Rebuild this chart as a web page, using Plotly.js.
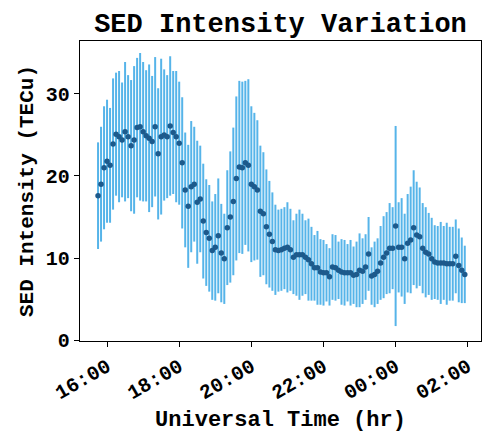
<!DOCTYPE html>
<html>
<head>
<meta charset="utf-8">
<script src="https://cdn.plot.ly/plotly-3.0.1.min.js"></script>
<style>html,body{margin:0;padding:0;background:#fff;}#chart{width:491px;height:433px;}</style>
</head>
<body>
<div id="chart"></div>
<script>
// Sample times (UT), 5-minute cadence
const times = [
"15:45","15:50","15:55","16:00","16:05","16:10","16:15","16:20","16:25","16:30","16:35","16:40",
"16:45","16:50","16:55","17:00","17:05","17:10","17:15","17:20","17:25","17:30","17:35","17:40",
"17:45","17:50","17:55","18:00","18:05","18:10","18:15","18:20","18:25","18:30","18:35","18:40",
"18:45","18:50","18:55","19:00","19:05","19:10","19:15","19:20","19:25","19:30","19:35","19:40",
"19:45","19:50","19:55","20:00","20:05","20:10","20:15","20:20","20:25","20:30","20:35","20:40",
"20:45","20:50","20:55","21:00","21:05","21:10","21:15","21:20","21:25","21:30","21:35","21:40",
"21:45","21:50","21:55","22:00","22:05","22:10","22:15","22:20","22:25","22:30","22:35","22:40",
"22:45","22:50","22:55","23:00","23:05","23:10","23:15","23:20","23:25","23:30","23:35","23:40",
"23:45","23:50","23:55","00:00","00:05","00:10","00:15","00:20","00:25","00:30","00:35","00:40",
"00:45","00:50","00:55","01:00","01:05","01:10","01:15","01:20","01:25","01:30","01:35","01:40",
"01:45","01:50","01:55"
];
// SED intensity (TECu)
const intensity = [
17.6,19.0,21.0,21.8,21.3,23.9,25.1,24.8,24.4,25.4,24.8,23.7,
24.4,25.9,26.0,25.4,24.9,24.6,24.2,26.0,22.7,24.8,25.0,24.8,
26.1,25.3,24.8,24.0,21.6,18.3,16.3,18.7,19.0,16.8,17.2,14.5,
13.1,12.4,10.9,11.3,12.7,10.6,9.9,13.7,15.0,16.9,19.7,21.1,
21.0,21.6,21.3,19.0,18.7,18.3,15.7,15.4,13.8,12.9,12.0,11.0,
10.9,11.0,11.2,11.3,11.0,10.1,10.4,10.4,10.4,10.1,9.8,9.3,
8.8,8.8,8.3,8.2,8.2,7.7,8.9,8.8,8.5,8.3,8.2,8.2,
8.2,7.9,8.0,8.5,8.4,8.9,10.5,7.8,8.0,8.4,9.4,10.1,
10.6,11.2,11.2,13.9,11.3,11.3,9.9,11.8,12.2,13.7,12.8,12.6,
11.2,10.7,10.5,9.9,9.5,9.4,9.4,9.4,9.3,9.3,9.3,10.2,
9.1,8.5,8.0
];
// Error (half-width, TECu)
const errors = [
6.5,7,7.5,7.5,7,8,7.5,8,7,8.5,7.5,8,
9,8.5,9,8.5,8,9,8,8.5,8,9.5,8,7.5,
8.5,7.5,8,7.5,8,7,7.5,8,7,7.5,6.5,7,
6.5,6.5,6,6.5,7,6,5.5,7,8,9,10,10.5,
10.5,10,10.5,9.5,9,8.5,8,7.5,7,6.5,6,5.5,
5,5,5,5.5,5,4.5,5,5.5,5,4.5,5,4.5,
4,4.5,4,4,3.5,3.5,4,4,3.5,4,4,3.5,
4,3.5,4,4.5,4,4,4.5,3.5,4,4,4.5,5,
5,5.5,5,12.2,5.5,6,5.5,6,6.5,7,6.5,6,
5.5,5.5,5,5,4.5,4.5,5,4.5,5,4.5,4.5,4.5,
4.5,4,3.5
];
const tickTimes = ["16:00","18:00","20:00","22:00","00:00","02:00"];
const tickLabels = ["16:00","18:00","20:00","22:00","00:00","02:00"];

function toDate(hm){
  const h = parseInt(hm.slice(0,2),10);
  return (h < 12 ? "2024-01-02 " : "2024-01-01 ") + hm;
}
const xs = times.map(toDate);

const font = "Liberation Mono, Courier New, monospace";
const trace = {
  x: xs, y: intensity, type: "scatter", mode: "markers",
  marker: {color: "#1d5a8c", size: 5.5},
  error_y: {type: "data", array: errors, visible: true, color: "#56b4e9", thickness: 2, width: 0},
  hoverinfo: "skip"
};
const layout = {
  width: 491, height: 433,
  margin: {l: 80, r: 10, t: 41, b: 92},
  paper_bgcolor: "#fff", plot_bgcolor: "#fff",
  showlegend: false,
  title: {text: "<b>SED Intensity Variation</b>", font: {family: font, size: 27, color: "#000"},
          x: 0.5, xref: "paper", xanchor: "center", y: 0.948, yref: "container", yanchor: "middle"},
  xaxis: {
    type: "date",
    range: ["2024-01-01 15:15", "2024-01-02 02:22"],
    tickvals: tickTimes.map(toDate), ticktext: tickLabels.map(s => "<b>" + s + "</b>"),
    tickangle: -30, tickfont: {family: font, size: 20, color: "#000"},
    ticks: "outside", ticklen: 5, tickcolor: "#000", tickwidth: 1,
    showline: true, linecolor: "#000", linewidth: 1.2, mirror: true,
    showgrid: false, zeroline: false,
    title: {text: "<b>Universal Time (hr)</b>", font: {family: font, size: 22, color: "#000"}, standoff: 6}
  },
  yaxis: {
    range: [-0.12, 36.46],
    tickvals: [0, 10, 20, 30], ticktext: ["<b>0</b>","<b>10</b>","<b>20</b>","<b>30</b>"],
    tickfont: {family: font, size: 20, color: "#000"},
    ticks: "outside", ticklen: 5, tickcolor: "#000", tickwidth: 1,
    showline: true, linecolor: "#000", linewidth: 1.2, mirror: true,
    showgrid: false, zeroline: false,
    title: {text: "<b>SED Intensity (TECu)</b>", font: {family: font, size: 21, color: "#000"}, standoff: 6}
  }
};
Plotly.newPlot("chart", [trace], layout, {displayModeBar: false, staticPlot: true});
</script>
</body>
</html>
